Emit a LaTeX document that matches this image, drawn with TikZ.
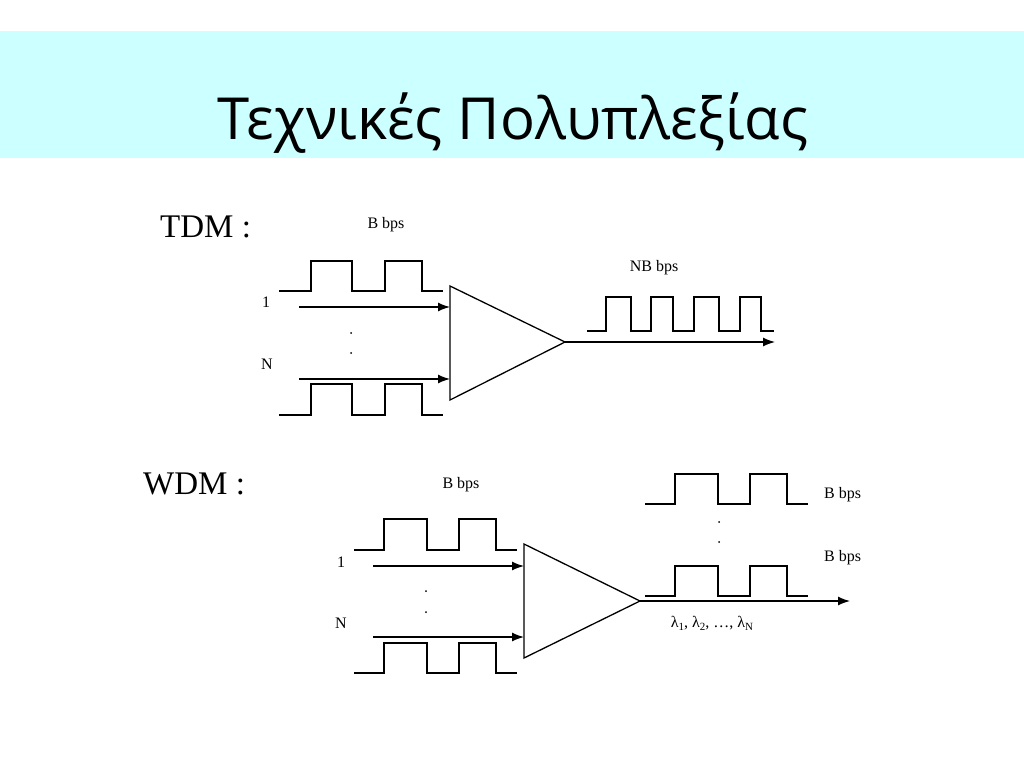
\documentclass[tikz,border=0pt]{standalone}
\usepackage{fontspec}
\setmainfont{Liberation Serif}
\newfontfamily\titlefont{Open Sans}
\usetikzlibrary{positioning, arrows.meta}
\definecolor{titlebar}{RGB}{204,255,255}
\tikzstyle{wave} = [line width=1.3pt]
\tikzset{
	link/.style={line width=1.3pt, -{Latex[length=12pt,width=9pt]}},
	rate/.style={font=\fontsize{16}{19}\selectfont, inner sep=0pt},
	chan/.style={font=\fontsize{16}{19}\selectfont, inner sep=0pt},
	scheme/.style={font=\fontsize{33}{40}\selectfont, inner sep=0pt, anchor=base west},
}
% two pulses: start, rise, fall, rise, fall, end, low, high
\newcommand{\pulsepair}[8]{%
	\draw[wave] (#1,#7) -| (#2,#8) -| (#3,#7) -| (#4,#8) -| (#5,#7) -- (#6,#7);}
\newcommand{\lsub}[1]{\raisebox{-3pt}{\fontsize{11}{13}\selectfont #1}}

\begin{document}
\begin{tikzpicture}[x=1pt,y=-1pt]
\useasboundingbox (0,0) rectangle (1024,768);
\fill[titlebar] (0,31) rectangle (1024,158);
\node[anchor=base, inner sep=0pt, font=\titlefont\fontsize{58}{70}\selectfont] (title) at (513,139) {Τεχνικές Πολυπλεξίας};

%TDM
\node[scheme] (tdm) at (160,237) {TDM :};
\node[rate] (tdm rate) at (386,225) {B bps};
\pulsepair{279}{311}{352}{385}{422}{443}{291}{261}
\pulsepair{279}{311}{352}{385}{422}{443}{415}{384}
\coordinate (tdm tl) at (450,286);
\coordinate (tdm bl) at (450,400);
\coordinate (tdm out) at (565,342);
\draw[wave] (tdm tl) -- (tdm bl) -- (tdm out) -- cycle;
\coordinate (tdm in1) at (299,307);
\coordinate (tdm inN) at (299,379);
\coordinate (tdm end) at (775,342);
\node[chan] (tdm one) at (266,302) {1};
\node[chan] (tdm N) at (267,364) {N};
\draw[link] (tdm in1) -- (tdm in1 -| tdm tl);
\draw[link] (tdm inN) -- (tdm inN -| tdm tl);
\foreach \y in {333, 353}
	\fill (351,\y) circle (1pt);
\draw[link] (tdm out) -- (tdm end);
\node[rate] (tdm outrate) at (654,268) {NB bps};
\draw[wave] (587,331) -| (606,297) -| (631,331) -| (651,297) -| (673,331)
	-| (694,297) -| (719,331) -| (740,297) -| (761,331) -- (774,331);

%WDM
\node[scheme] (wdm) at (143,494) {WDM :};
\node[rate] (wdm rate) at (461,485) {B bps};
\pulsepair{354}{384}{427}{459}{496}{517}{550}{519}
\pulsepair{354}{384}{427}{459}{496}{517}{673}{643}
\coordinate (wdm tl) at (524,544);
\coordinate (wdm bl) at (524,658);
\coordinate (wdm out) at (640,601);
\draw[wave] (wdm tl) -- (wdm bl) -- (wdm out) -- cycle;
\coordinate (wdm in1) at (373,566);
\coordinate (wdm inN) at (373,637);
\coordinate (wdm end) at (850,601);
\node[chan] (wdm one) at (341,562) {1};
\node[chan] (wdm N) at (341,623) {N};
\draw[link] (wdm in1) -- (wdm in1 -| wdm tl);
\draw[link] (wdm inN) -- (wdm inN -| wdm tl);
\foreach \y in {591, 612}
	\fill (426,\y) circle (1pt);
\draw[link] (wdm out) -- (wdm end);
\pulsepair{645}{675}{718}{750}{787}{808}{504}{474}
\pulsepair{645}{675}{718}{750}{787}{808}{596}{566}
\node[rate, anchor=west] (wdm rate1) at (824,495) {B bps};
\node[rate, anchor=west] (wdm rateN) at (824,558) {B bps};
\foreach \y in {522, 542}
	\fill (719,\y) circle (1pt);
\node[rate] (lambdas) at (712,623) {λ\lsub{1}, λ\lsub{2}, …, λ\lsub{N}};
\end{tikzpicture}
\end{document}
